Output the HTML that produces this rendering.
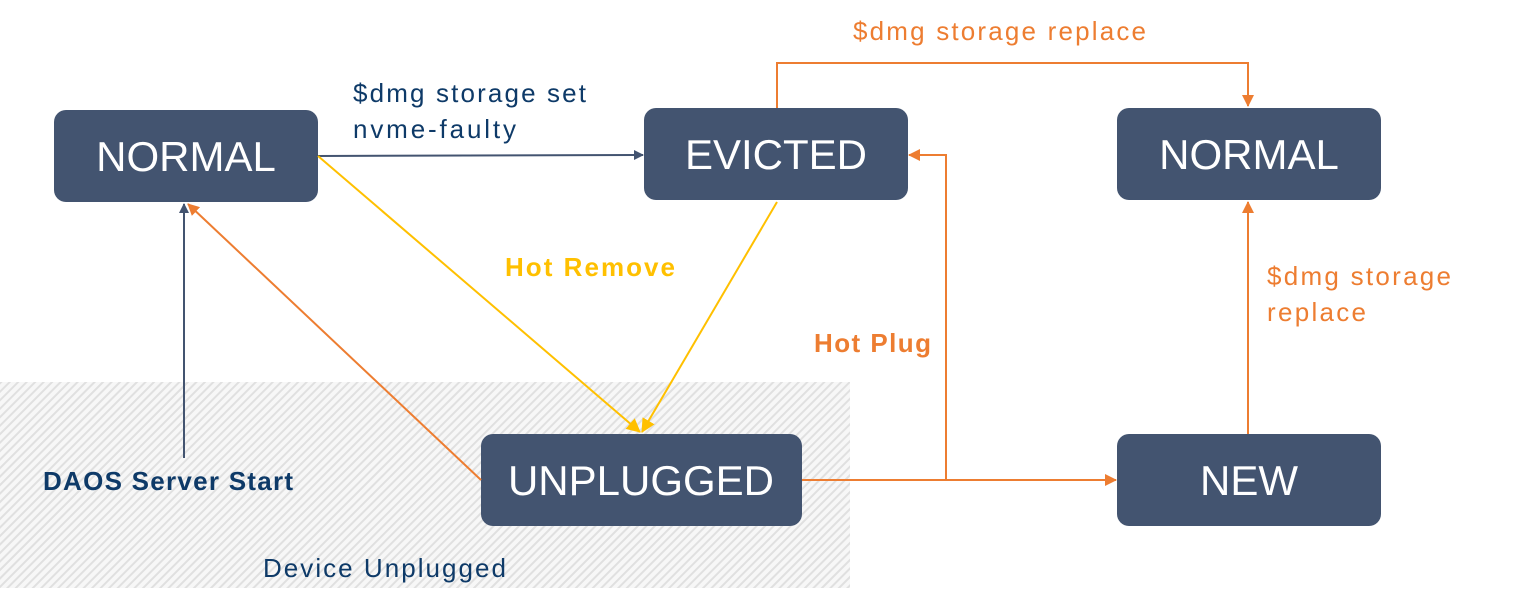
<!DOCTYPE html>
<html><head><style>
body{margin:0;width:1532px;height:607px;background:#fff;overflow:hidden;font-family:"Liberation Sans","DejaVu Sans",sans-serif}
</style></head><body>
<svg width="1532" height="607" xmlns="http://www.w3.org/2000/svg" font-family="Liberation Sans, DejaVu Sans, sans-serif">
<defs>
<pattern id="h" width="6" height="6" patternUnits="userSpaceOnUse" patternTransform="rotate(45)">
<rect width="6" height="6" fill="#f7f7f7"/><rect width="2" height="6" fill="#e0e0e0"/>
</pattern>
<marker id="ag" markerWidth="10" markerHeight="10" refX="9" refY="5" orient="auto" markerUnits="userSpaceOnUse"><path d="M0,0 L10,5 L0,10 z" fill="#435470"/></marker>
<marker id="ao" markerWidth="12" markerHeight="12" refX="11" refY="6" orient="auto" markerUnits="userSpaceOnUse"><path d="M0,0 L12,6 L0,12 z" fill="#ed7d31"/></marker>
<marker id="ay" markerWidth="14" markerHeight="14" refX="13" refY="7" orient="auto" markerUnits="userSpaceOnUse"><path d="M0,0 L14,7 L0,14 z" fill="#ffc000"/></marker>
</defs>
<rect x="0" y="382" width="850" height="206" fill="url(#h)"/>
<g fill="#435470">
<rect x="54" y="110" width="264" height="92" rx="12"/>
<rect x="644" y="108" width="264" height="92" rx="12"/>
<rect x="1117" y="108" width="264" height="92" rx="12"/>
<rect x="481" y="434" width="321" height="92" rx="12"/>
<rect x="1117" y="434" width="264" height="92" rx="12"/>
</g>
<g fill="#fff" font-size="42" text-anchor="middle">
<text x="186" y="171">NORMAL</text>
<text x="776" y="169">EVICTED</text>
<text x="1249" y="169">NORMAL</text>
<text x="641" y="495">UNPLUGGED</text>
<text x="1249" y="495">NEW</text>
</g>
<g fill="none" stroke-width="2">
<line x1="318" y1="156" x2="643" y2="155" stroke="#435470" marker-end="url(#ag)"/>
<line x1="184" y1="458" x2="184" y2="204" stroke="#435470" marker-end="url(#ag)"/>
<line x1="481" y1="480" x2="188" y2="204" stroke="#ed7d31" marker-end="url(#ao)"/>
<line x1="318" y1="156" x2="640" y2="432" stroke="#ffc000" marker-end="url(#ay)"/>
<line x1="777" y1="202" x2="642" y2="432" stroke="#ffc000" marker-end="url(#ay)"/>
<line x1="802" y1="480" x2="1116" y2="480" stroke="#ed7d31" marker-end="url(#ao)"/>
<polyline points="946,480 946,155 909,155" stroke="#ed7d31" marker-end="url(#ao)"/>
<polyline points="777,108 777,63 1248,63 1248,106" stroke="#ed7d31" marker-end="url(#ao)"/>
<line x1="1248" y1="434" x2="1248" y2="202" stroke="#ed7d31" marker-end="url(#ao)"/>
</g>
<g font-size="26">
<text x="353" y="102" fill="#0e3a68" textLength="233">$dmg storage set</text>
<text x="353" y="138" fill="#0e3a68" textLength="163">nvme-faulty</text>
<text x="853" y="40" fill="#ed7d31" textLength="293">$dmg storage replace</text>
<text x="1267" y="285" fill="#ed7d31" textLength="184">$dmg storage</text>
<text x="1267" y="321" fill="#ed7d31" textLength="99">replace</text>
<text x="263" y="577" fill="#0e3a68" textLength="243">Device Unplugged</text>
<text x="505" y="276" fill="#ffc000" font-weight="bold" textLength="170">Hot Remove</text>
<text x="814" y="352" fill="#ed7d31" font-weight="bold" textLength="117">Hot Plug</text>
<text x="43" y="490" fill="#0e3a68" font-weight="bold" textLength="250">DAOS Server Start</text>
</g>
</svg>
</body></html>
